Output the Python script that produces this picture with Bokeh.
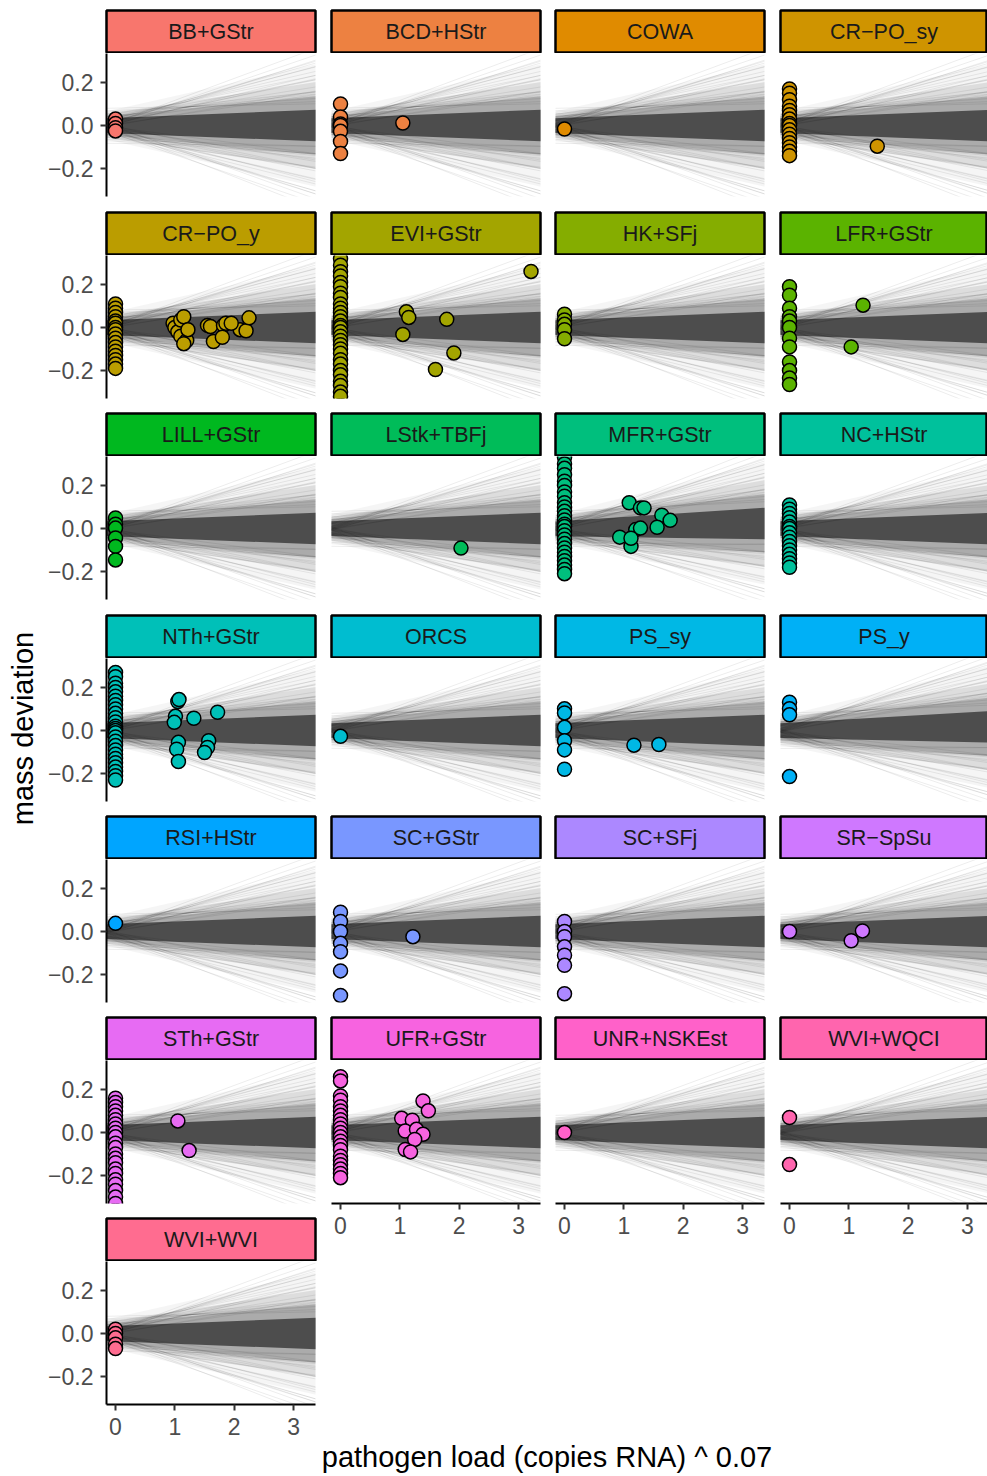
import math
from bokeh.plotting import figure
from bokeh.layouts import row, column
from bokeh.models import Range1d, FixedTicker
from bokeh.embed import file_html
from bokeh.resources import INLINE
from bokeh.core.properties import value

# ---------------- data ----------------
panels = ["BB+GStr", "BCD+HStr", "COWA", "CR\u2212PO_sy",
          "CR\u2212PO_y", "EVI+GStr", "HK+SFj", "LFR+GStr",
          "LILL+GStr", "LStk+TBFj", "MFR+GStr", "NC+HStr",
          "NTh+GStr", "ORCS", "PS_sy", "PS_y",
          "RSI+HStr", "SC+GStr", "SC+SFj", "SR\u2212SpSu",
          "STh+GStr", "UFR+GStr", "UNR+NSKEst", "WVI+WQCI",
          "WVI+WVI"]

# mass deviation of samples with zero pathogen load (x = 0)
dev_at_zero = [
    [0.03, 0.01, -0.01, -0.025],
    [0.1, 0.04, 0.007, 0.0, -0.027, -0.074, -0.13],
    [-0.016],
    [0.17, 0.15, 0.12, 0.09, 0.07, 0.05, 0.03, 0.01, 0.0, -0.02, -0.04, -0.06, -0.08, -0.1, -0.12, -0.14],
    [0.11, 0.09, 0.07, 0.05, 0.03, 0.02, 0.0, -0.01, -0.03, -0.05, -0.07, -0.09, -0.11, -0.13, -0.15, -0.17, -0.19],
    [0.32, 0.29, 0.26, 0.24, 0.21, 0.19, 0.16, 0.14, 0.11, 0.09, 0.07, 0.05, 0.03, 0.01, 0.0, -0.02, -0.04,
     -0.06, -0.08, -0.1, -0.12, -0.15, -0.17, -0.2, -0.22, -0.25, -0.27, -0.3, -0.32],
    [0.062, 0.035, 0.015, -0.01, -0.052],
    [0.19, 0.15, 0.09, 0.05, 0.03, 0.0, -0.05, -0.09, -0.16, -0.2, -0.235, -0.265],
    [0.049, 0.02, 0.002, -0.044, -0.083, -0.146],
    [],
    [0.33, 0.3, 0.28, 0.25, 0.22, 0.2, 0.17, 0.15, 0.12, 0.1, 0.08, 0.06, 0.04, 0.02, 0.01, -0.01, -0.03,
     -0.05, -0.07, -0.09, -0.11, -0.13, -0.15, -0.17, -0.19, -0.21],
    [0.11, 0.09, 0.07, 0.05, 0.03, 0.01, 0.0, -0.02, -0.04, -0.06, -0.08, -0.1, -0.12, -0.14, -0.16, -0.18],
    [0.27, 0.25, 0.22, 0.2, 0.18, 0.16, 0.14, 0.12, 0.1, 0.08, 0.06, 0.04, 0.02, 0.01, 0.0, -0.01, -0.03,
     -0.05, -0.07, -0.09, -0.11, -0.13, -0.15, -0.17, -0.19, -0.21, -0.23],
    [-0.027],
    [0.101, 0.082, 0.015, -0.047, -0.09, -0.18],
    [0.132, 0.101, 0.073, -0.214],
    [0.038],
    [0.09, 0.047, 0.0, -0.055, -0.094, -0.183, -0.297],
    [0.047, 0.0, -0.024, -0.071, -0.11, -0.157, -0.289],
    [0.0],
    [0.16, 0.14, 0.12, 0.1, 0.08, 0.06, 0.04, 0.02, 0.0, -0.02, -0.05, -0.07, -0.1, -0.12, -0.14, -0.17,
     -0.19, -0.22, -0.24, -0.27, -0.3, -0.33],
    [0.26, 0.24, 0.17, 0.15, 0.12, 0.1, 0.08, 0.06, 0.04, 0.02, 0.0, -0.02, -0.04, -0.06, -0.08, -0.11,
     -0.13, -0.15, -0.17, -0.19, -0.21],
    [0.0],
    [0.07, -0.149],
    [0.02, 0.0, -0.02, -0.05, -0.07],
]

# samples with positive pathogen load: transformed load and mass deviation
load_pos = [
    [], [1.05], [], [1.48],
    [0.97, 1.0, 1.05, 1.1, 1.15, 1.1, 1.2, 1.15, 1.22, 1.55, 1.6, 1.65, 1.82, 1.86, 1.8, 2.1, 2.2, 2.25, 1.95],
    [1.11, 1.15, 1.05, 1.79, 1.91, 1.6, 3.21],
    [], [1.24, 1.04],
    [], [2.03],
    [1.09, 1.28, 1.34, 0.93, 1.12, 1.2, 1.28, 1.64, 1.78, 1.56, 1.12],
    [],
    [1.05, 1.07, 1.01, 0.99, 1.32, 1.72, 1.06, 1.03, 1.06, 1.57, 1.55, 1.5],
    [], [1.17, 1.59], [],
    [], [1.22], [], [1.04, 1.23],
    [1.05, 1.24],
    [1.39, 1.48, 1.03, 1.21, 1.09, 1.28, 1.39, 1.25, 1.09, 1.18],
    [], [],
    [],
]
dev_pos = [
    [], [0.012], [], [-0.096],
    [0.02, 0.0, -0.02, 0.035, 0.05, -0.04, -0.06, -0.075, -0.01, 0.01, 0.005, -0.065, 0.01, 0.02, -0.045,
     -0.01, -0.015, 0.045, 0.02],
    [0.073, 0.047, -0.032, 0.038, -0.118, -0.195, 0.261],
    [], [0.104, -0.09],
    [], [-0.091],
    [0.12, 0.096, 0.096, -0.04, -0.083, -0.005, 0.002, 0.062, 0.038, 0.006, -0.045],
    [],
    [0.135, 0.144, 0.066, 0.038, 0.057, 0.085, -0.055, -0.087, -0.144, -0.047, -0.079, -0.102],
    [], [-0.068, -0.065], [],
    [], [-0.024], [], [-0.043, 0.003],
    [0.054, -0.084],
    [0.147, 0.101, 0.066, 0.057, 0.007, 0.015, -0.008, -0.032, -0.079, -0.09],
    [], [],
    [],
]

# posterior draws of the regression line (intercept, slope), drawn as thin lines
draw_intercept = [0.012, -0.018, 0.031, -0.027, 0.004, -0.041, 0.052, -0.009, 0.022, -0.035, 0.065, -0.058,
                  0.015, -0.022, 0.038, -0.012, 0.071, -0.066, 0.008, -0.031, 0.027, -0.048, 0.044, -0.004,
                  0.019, -0.025, 0.057, -0.073, 0.002, -0.015, 0.033, -0.039, 0.081, -0.052, 0.011, -0.007,
                  0.046, -0.029, 0.024, -0.062, 0.036, -0.083, 0.006, -0.044, 0.017, -0.011, 0.059, -0.035]
draw_slope = [0.061, -0.072, 0.044, -0.051, 0.089, -0.095, 0.028, -0.036, 0.075, -0.064, 0.018, -0.022,
              0.102, -0.108, 0.052, -0.046, 0.012, -0.009, 0.067, -0.081, 0.038, -0.031, 0.056, -0.058,
              0.083, -0.087, 0.024, -0.017, 0.047, -0.043, 0.071, -0.069, 0.006, -0.026, 0.094, -0.099,
              0.033, -0.054, 0.079, -0.039, 0.064, -0.004, 0.041, -0.077, 0.058, -0.091, 0.029, -0.063]
# dense posterior band: half-width at x=0, widening per unit x, opacity
band_half0 = [0.075, 0.06, 0.048, 0.036]
band_slope = [0.062, 0.042, 0.026, 0.011]
band_alpha = [0.06, 0.14, 0.35, 1.0]
# per-panel tilt of the posterior centre line
fan_tilt = [0, 0, 0, 0,
            0, 0, 0, 0,
            0, 0, 0.007, 0,
            0, 0, 0, 0.005,
            0, 0, 0, 0,
            0, 0, 0, 0,
            0]

x_ticks = [0, 1, 2, 3]
y_ticks = [-0.2, 0.0, 0.2]
y_tick_labels = {-0.2: "\u22120.2", 0: "0.0", 0.2: "0.2"}

# ---------------- style ----------------
FONT = "Liberation Sans"
X_LO = -0.152
X_HI = 3.37
PX_PER_X = 59.3
Y_LO, Y_HI = -0.33, 0.335


def hue_pal(n, c=100.0, l=65.0):
    cols = []
    for i in range(n):
        h = 15 + 360.0 * i / n
        hr = math.radians(h)
        U, V = c * math.cos(hr), c * math.sin(hr)
        Y = 100.0 * ((l + 16) / 116) ** 3
        u = U / (13 * l) + 0.1978398
        v = V / (13 * l) + 0.4683363
        X = 9.0 * Y * u / (4 * v)
        Z = -X / 3 - 5 * Y + 3 * Y / v

        def g(t):
            t = 1.055 * t ** (1 / 2.4) - 0.055 if t > 0.00304 else 12.92 * t
            return min(1.0, max(0.0, t))
        r = g((3.240479 * X - 1.537150 * Y - 0.498535 * Z) / 100)
        gg = g((-0.969256 * X + 1.875992 * Y + 0.041556 * Z) / 100)
        b = g((0.055648 * X - 0.204043 * Y + 1.057311 * Z) / 100)
        cols.append("#%02X%02X%02X" % (round(r * 255), round(gg * 255), round(b * 255)))
    return cols


colors = hue_pal(len(panels))

YF_W = 42
col_frame_w = [209, 209, 209, 207]
col_left = [64, 14, 13, 14]
col_right = [2, 2, 2, 0]
row_gap = [14, 13, 14, 13, 13, 13]
STRIP_H = 43
FRAME_H = 143
TOP_PAD = 10
BOTTOM_AXIS = 40
PAGE_H = 1476


def style_axis(ax):
    ax.axis_line_color = "black"
    ax.axis_line_width = 2
    ax.major_tick_line_color = "#333333"
    ax.major_tick_line_width = 2
    ax.major_tick_out = 6
    ax.major_tick_in = 0
    ax.minor_tick_line_color = None
    ax.major_label_text_font = FONT
    ax.major_label_text_font_size = "23px"
    ax.major_label_text_color = "#4D4D4D"
    ax.major_label_standoff = 7


def make_strip(name, color, c, r):
    s = figure(frame_width=col_frame_w[c], frame_height=STRIP_H,
               x_range=Range1d(0, 1), y_range=Range1d(0, 1),
               toolbar_location=None, output_backend="svg",
               x_axis_location=None, y_axis_location=None,
               min_border_left=col_left[c], min_border_right=col_right[c],
               min_border_top=TOP_PAD if r == 0 else 2, min_border_bottom=0,
               background_fill_color=color, border_fill_color="white",
               outline_line_color="black", outline_line_width=2.5)
    s.grid.visible = False
    s.text(x=[0.5], y=[0.5], text=[name], text_align="center", text_baseline="middle",
           text_font=value(FONT), text_font_size="21.5px", text_color="#1A1A1A")
    return s


def make_panel(i, c, r, show_y, show_x):
    x_hi = X_LO + col_frame_w[c] / PX_PER_X if c == 3 else X_HI
    p = figure(frame_width=col_frame_w[c], frame_height=FRAME_H,
               x_range=Range1d(X_LO, x_hi), y_range=Range1d(Y_LO, Y_HI),
               toolbar_location=None, output_backend="svg",
               x_axis_location="below" if show_x else None,
               y_axis_location="left" if show_y else None,
               min_border_left=col_left[c], min_border_right=col_right[c],
               min_border_top=0, min_border_bottom=BOTTOM_AXIS if show_x else row_gap[r],
               outline_line_color=None, background_fill_color="white",
               border_fill_color="white")
    p.grid.visible = False
    xa, xb = X_LO - 0.3, x_hi + 0.3
    tilt = fan_tilt[i]
    # dense posterior bands
    for h0, sl, al in zip(band_half0, band_slope, band_alpha):
        p.varea(x=[xa, xb],
                y1=[tilt * xa - (h0 + sl * xa), tilt * xb - (h0 + sl * xb)],
                y2=[tilt * xa + (h0 + sl * xa), tilt * xb + (h0 + sl * xb)],
                fill_color="#4D4D4D", fill_alpha=al)
    # individual posterior draws
    xs = [[xa, xb] for _ in draw_slope]
    ys = [[a + (b + tilt) * xa, a + (b + tilt) * xb] for a, b in zip(draw_intercept, draw_slope)]
    p.multi_line(xs=xs, ys=ys, line_color="black", line_alpha=0.075, line_width=1)
    # samples
    px = [0.0] * len(dev_at_zero[i]) + load_pos[i]
    py = dev_at_zero[i] + dev_pos[i]
    p.scatter(x=px, y=py, size=14, fill_color=colors[i], line_color="black", line_width=1.5)
    if show_y:
        p.yaxis.ticker = FixedTicker(ticks=y_ticks)
        p.yaxis.major_label_overrides = y_tick_labels
    if show_x:
        p.xaxis.ticker = FixedTicker(ticks=x_ticks)
    for ax in p.axis:
        style_axis(ax)
    return p


cols = [[] for _ in range(4)]
for i, name in enumerate(panels):
    r, c = divmod(i, 4)
    last_in_col = (i + 4) >= len(panels)
    cols[c].append(make_strip(name, colors[i], c, r))
    cols[c].append(make_panel(i, c, r, show_y=(c == 0), show_x=last_in_col))

COL1_H = TOP_PAD + 7 * (STRIP_H + FRAME_H) + sum(row_gap) + 6 * 2 + BOTTOM_AXIS
RIGHT_H = TOP_PAD + 6 * (STRIP_H + FRAME_H) + sum(row_gap[:5]) + 5 * 2 + BOTTOM_AXIS

yfig = figure(width=YF_W, height=COL1_H, x_range=Range1d(0, YF_W), y_range=Range1d(0, COL1_H),
              toolbar_location=None, output_backend="svg", x_axis_location=None, y_axis_location=None,
              min_border=0, outline_line_color=None)
yfig.grid.visible = False
yfig.text(x=[22], y=[COL1_H - 728], text=["mass deviation"], angle=math.pi / 2,
          text_align="center", text_baseline="middle", text_font=value(FONT),
          text_font_size="29px", text_color="black")

# x-axis title placed in the free space below columns 2-4
RIGHT_X0 = YF_W + col_left[0] + col_frame_w[0] + col_right[0]
RIGHT_W = sum(col_left[k] + col_frame_w[k] + col_right[k] for k in range(1, 4))
XF_H = PAGE_H - RIGHT_H - 2
xfig = figure(width=RIGHT_W, height=XF_H, x_range=Range1d(0, RIGHT_W), y_range=Range1d(0, XF_H),
              toolbar_location=None, output_backend="svg", x_axis_location=None, y_axis_location=None,
              min_border=0, outline_line_color=None)
xfig.grid.visible = False
xfig.text(x=[546.5 - RIGHT_X0], y=[XF_H - (1456 - RIGHT_H)], text=["pathogen load (copies RNA) ^ 0.07"],
          text_align="center", text_baseline="middle", text_font=value(FONT),
          text_font_size="29px", text_color="black")

right_group = column(row([column(cl, spacing=0) for cl in cols[1:]], spacing=0), xfig, spacing=0)
layout = row(yfig, column(cols[0], spacing=0), right_group, spacing=0)
open("out.html", "w").write(file_html(layout, INLINE))
